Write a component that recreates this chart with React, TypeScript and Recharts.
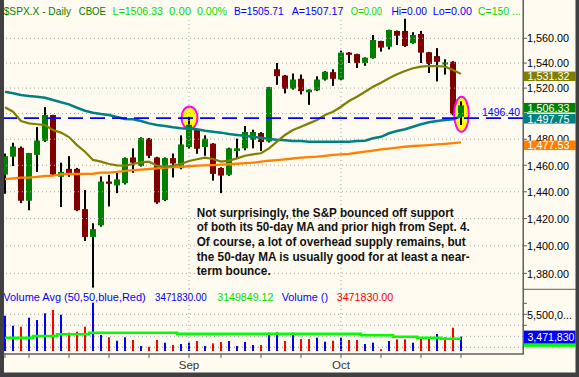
import React from 'react';
import { ComposedChart, Bar, Line, XAxis, YAxis, ReferenceLine } from 'recharts';

// ---------- DATA ----------
const opens = [1453, 1466.6, 1473.4, 1433.3, 1468, 1478.8, 1498.8, 1451.3, 1457.3, 1457.3, 1427, 1406.5, 1415, 1447.7, 1444.8, 1446.5, 1466, 1459.5, 1480.4, 1466, 1433.8, 1465.5, 1457.8, 1474, 1487.6, 1474, 1476.6, 1458, 1452.8, 1471, 1473, 1479.6, 1484.8, 1478.3, 1535, 1530, 1519.6, 1527.4, 1516.7, 1518.2, 1526.8, 1532.7, 1526.8, 1548.4, 1547.2, 1540, 1543.9, 1557.8, 1553.2, 1566, 1566, 1556, 1563.5, 1548.7, 1545.6, 1539, 1541, 1497.5];
const highs = [1469, 1477.3, 1474.4, 1469.5, 1489.4, 1505, 1499, 1462, 1467, 1458, 1441.3, 1416.5, 1451.6, 1452.8, 1455, 1466, 1473, 1481.5, 1481, 1466.5, 1466, 1469, 1483, 1497.2, 1488, 1483, 1477, 1458.5, 1473.5, 1480.4, 1490.2, 1487.4, 1485.5, 1521, 1540, 1530.5, 1531.6, 1530.8, 1519, 1529.4, 1533.5, 1535, 1550, 1548.8, 1547.5, 1544.6, 1562.7, 1558, 1567, 1566.3, 1576, 1565, 1566, 1549, 1552, 1543, 1541.5, 1509.5];
const lows = [1438.5, 1459.5, 1431.5, 1426.2, 1455, 1478, 1452, 1428.6, 1451.3, 1425.5, 1403.5, 1369.8, 1414, 1429, 1439, 1445.5, 1454.3, 1459, 1465.5, 1431, 1433, 1450.8, 1457, 1472.7, 1468.8, 1467.3, 1448.4, 1439, 1452, 1465.5, 1471.5, 1473, 1471, 1477.5, 1522.6, 1515.8, 1518.8, 1515, 1506.8, 1517.6, 1526, 1521.8, 1526.3, 1540, 1536, 1537.8, 1543.5, 1549.2, 1551, 1554.5, 1553, 1555.5, 1540, 1532, 1525.3, 1530.8, 1498.5, 1491];
const closes = [1467, 1474.4, 1433.3, 1469.4, 1479, 1498.8, 1453, 1455, 1453, 1426.2, 1406.5, 1412.2, 1447.7, 1446, 1449.3, 1465.5, 1462, 1481, 1467.3, 1432, 1465.5, 1461.4, 1476, 1491.2, 1472.7, 1480.4, 1453.5, 1452.2, 1473, 1473, 1485.6, 1485.6, 1477.8, 1520.8, 1529.5, 1519.4, 1526.8, 1517.6, 1518.8, 1526.8, 1533, 1527.4, 1548.4, 1546.6, 1540, 1544.3, 1558.6, 1552.4, 1566.8, 1562.1, 1553.8, 1562.7, 1548.4, 1539.2, 1541, 1540.5, 1499.3, 1506.33];

const ma20 = [1504.9, 1501.4, 1494.1, 1492.3, 1491.6, 1491.0, 1487.1, 1485.1, 1481.7, 1475.5, 1470.4, 1464.1, 1462.8, 1461.0, 1460.0, 1459.7, 1461.0, 1462.3, 1462.8, 1459.7, 1458.9, 1459.7, 1461.0, 1463.3, 1464.6, 1465.8, 1464.8, 1462.8, 1463.6, 1465.3, 1467.3, 1468.4, 1469.2, 1473.0, 1478.1, 1483.3, 1487.1, 1489.7, 1492.3, 1494.9, 1498.8, 1501.4, 1505.3, 1509.8, 1513.2, 1517.1, 1521.1, 1524.3, 1527.8, 1531.0, 1533.6, 1535.8, 1537.1, 1537.6, 1537.6, 1537.1, 1534.4, 1531.32];
const ma50 = [1517.1, 1515.9, 1514.5, 1513.7, 1513.2, 1512.4, 1510.6, 1508.8, 1507.2, 1504.5, 1502.2, 1500.6, 1499.6, 1498.8, 1497.3, 1495.7, 1495.5, 1494.1, 1492.3, 1491.0, 1490.2, 1489.2, 1488.5, 1488.2, 1487.7, 1486.6, 1485.8, 1485.1, 1484.0, 1483.3, 1482.7, 1481.9, 1481.2, 1480.2, 1479.6, 1479.2, 1478.6, 1478.6, 1478.1, 1478.1, 1478.1, 1478.1, 1478.1, 1478.1, 1478.6, 1478.8, 1480.7, 1481.9, 1484.6, 1486.4, 1487.7, 1489.7, 1491.6, 1493.1, 1494.1, 1494.9, 1495.5, 1497.75];
const ma200 = [1449.6, 1450.1, 1450.6, 1450.6, 1451.3, 1451.9, 1452.1, 1453.2, 1453.4, 1453.4, 1453.5, 1453.6, 1454.4, 1454.4, 1455.1, 1455.8, 1456.4, 1456.8, 1457.2, 1457.7, 1458.2, 1458.6, 1458.9, 1459.3, 1459.7, 1460.0, 1460.2, 1460.5, 1460.8, 1461.2, 1461.6, 1462.0, 1462.8, 1463.5, 1464.0, 1464.6, 1465.2, 1465.8, 1466.2, 1466.6, 1467.2, 1467.9, 1468.3, 1468.8, 1469.6, 1470.4, 1471.3, 1472.2, 1472.8, 1473.5, 1474.2, 1474.8, 1475.1, 1475.5, 1476.0, 1476.5, 1477.0, 1477.53];

const volumes = [5370000, 4460000, 4370000, 5190000, 4980000, 5590000, 5890000, 5460000, 3830000, 3920000, 4370000, 6550000, 3620000, 3410000, 3100000, 3410000, 3160000, 2620000, 2550000, 3160000, 2920000, 2710000, 2800000, 2920000, 3070000, 2620000, 2860000, 2980000, 3070000, 2620000, 2980000, 2710000, 2710000, 3830000, 3860000, 3070000, 3830000, 3250000, 3250000, 3370000, 3010000, 3100000, 3370000, 3160000, 3160000, 2800000, 2920000, 2320000, 3070000, 3230000, 3230000, 2920000, 3320000, 3410000, 3710000, 3410000, 4280000, 3471830];
const volumeUp = [1, 1, 0, 1, 1, 1, 0, 1, 0, 0, 0, 1, 1, 0, 1, 1, 0, 1, 0, 0, 1, 0, 1, 1, 0, 1, 0, 0, 1, 1, 1, 1, 0, 1, 1, 0, 1, 0, 0, 1, 1, 0, 1, 0, 0, 1, 1, 0, 1, 0, 0, 1, 0, 0, 1, 0, 0, 1];
const volumeAvg = [3370000, 3370000, 3370000, 3370000, 3530000, 3530000, 3530000, 3680000, 3680000, 3680000, 3680000, 3830000, 3830000, 3830000, 3830000, 3830000, 3830000, 3830000, 3830000, 3830000, 3830000, 3830000, 3740000, 3740000, 3740000, 3740000, 3740000, 3740000, 3740000, 3740000, 3740000, 3740000, 3740000, 3740000, 3740000, 3740000, 3740000, 3740000, 3740000, 3740000, 3740000, 3740000, 3740000, 3740000, 3740000, 3590000, 3590000, 3590000, 3590000, 3460000, 3460000, 3460000, 3370000, 3370000, 3370000, 3280000, 3280000, 3280000];
const volumeAvgLast = 3149849.12;

const priceTicks = [1380, 1400, 1420, 1440, 1460, 1480, 1500, 1520, 1540, 1560];
const hiddenPriceLabels = [1500];
const volumeTicks = [4500000, 5500000, 6500000];
const volumeGrid = [2500000, 3500000, 4500000, 5500000];
const weekTicks = [0, 3, 8, 13, 18, 23, 27, 32, 37, 42, 47, 52, 57];
const monthStarts = [23, 42];
const monthLabels: Record<number, string> = { 23: 'Sep', 42: 'Oct' };
const supportLevel = 1496.4;
const highlights = [
  { i: 23, price: 1496.7, rx: 8, ry: 11.3 },
  { i: 57, price: 1499.4, rx: 7.3, ry: 17.5 },
];

// ---------- STYLE ----------
const FONT = "'Liberation Sans', Arial, sans-serif";
const CREAM = '#fffbf0';
const FRAME = '#404040';
const AXIS = '#606060';
const GRID = '#a8a8a8';
const PRICE_DOMAIN: [number, number] = [1368.8, 1576.6];
const VOL_DOMAIN: [number, number] = [1891000, 7800000];
const VOL_FLOOR = 2164000;
const X_DOMAIN: [number, number] = [-0.125, 64.75];

const data = opens.map((o, i) => ({
  i,
  open: o,
  high: highs[i],
  low: lows[i],
  close: closes[i],
  ma20: ma20[i],
  ma50: ma50[i],
  ma200: ma200[i],
  vol: volumes[i],
  up: volumeUp[i] === 1,
  vavg: volumeAvg[i],
}));

const last = data[data.length - 1];

const fmtPrice = (v: number) =>
  v.toLocaleString('en-US', { minimumFractionDigits: 2, maximumFractionDigits: 2 });

const Candle = (props: any) => {
  const { x, y, width, height, payload } = props;
  if (x == null || y == null || !payload) return null;
  const top = Math.min(y, y + height);
  const bot = Math.max(y, y + height);
  const lh = Math.log(payload.high);
  const ll = Math.log(payload.low);
  const yOf = (p: number) => (lh === ll ? top : top + ((lh - Math.log(p)) / (lh - ll)) * (bot - top));
  const cx = x + width / 2;
  const rising = payload.close >= payload.open;
  const bTop = yOf(Math.max(payload.open, payload.close));
  const bBot = yOf(Math.min(payload.open, payload.close));
  const hl = highlights.find((h) => h.i === payload.i);
  return (
    <g>
      {hl && (
        <ellipse cx={cx + 0.5} cy={yOf(hl.price)} rx={hl.rx} ry={hl.ry} fill="#ffff00" stroke="#ff00ff" strokeWidth={2} />
      )}
      <rect x={cx - 1} y={top} width={2} height={Math.max(1, bot - top)} fill="#000" />
      <rect x={x} y={bTop} width={width} height={Math.max(2, bBot - bTop)} fill={rising ? '#008000' : '#800000'} />
    </g>
  );
};

const VolBar = (props: any) => {
  const { x, y, width, height, payload } = props;
  if (x == null || y == null || !payload) return null;
  const top = Math.min(y, y + height);
  return <rect x={x} y={top} width={width} height={Math.abs(height)} fill={payload.up ? '#0000ff' : '#ff0000'} />;
};

const PriceTick = (p: any) => {
  if (hiddenPriceLabels.includes(p.payload.value)) return null;
  return (
    <text x={p.x} y={p.y + 4.2} fontSize={11.5} fontFamily={FONT} fill="#000" textLength={42} lengthAdjust="spacingAndGlyphs">
      {fmtPrice(p.payload.value)}
    </text>
  );
};

const VolTick = (p: any) => {
  if (p.payload.value !== 5500000) return null;
  const s = p.payload.value.toLocaleString('en-US');
  return (
    <text x={p.x} y={p.y + 4.2} fontSize={11.5} fontFamily={FONT} fill="#000" textLength={45} lengthAdjust="spacingAndGlyphs">
      {s.slice(0, 7) + '...'}
    </text>
  );
};

const MonthTick = (p: any) => {
  const lbl = monthLabels[p.payload.value];
  if (!lbl) return null;
  return (
    <text x={p.x} y={p.y + 8.5} textAnchor="middle" fontSize={11.5} fontFamily={FONT} fill="#333">
      {lbl}
    </text>
  );
};

const ValueBox = (props: any) => {
  const { viewBox, text, fill, top, h, tw, ty } = props;
  if (!viewBox) return null;
  const bx = viewBox.x + viewBox.width + 0.5;
  const by = viewBox.y + top;
  return (
    <g>
      <rect x={bx} y={by} width={52} height={h} fill={fill} />
      {text ? (
        <text x={bx + 4} y={by + ty} fontSize={11.5} fontFamily={FONT} fill="#fff" textLength={tw} lengthAdjust="spacingAndGlyphs">
          {text}
        </text>
      ) : null}
    </g>
  );
};

const LevelLabel = (props: any) => {
  const { viewBox } = props;
  if (!viewBox) return null;
  return (
    <text x={viewBox.x + viewBox.width - 3} y={viewBox.y - 2.3} textAnchor="end" fontSize={11.5} fontFamily={FONT} fill="#0000ff" textLength={38} lengthAdjust="spacingAndGlyphs">
      {supportLevel.toFixed(2)}
    </text>
  );
};

const headerSegs = [
  { t: '$SPX.X - Daily', x: 3.7, w: 67.3, c: '#008000' },
  { t: 'CBOE', x: 78.7, w: 27.3, c: '#008000' },
  { t: 'L=' + last.close.toFixed(2), x: 112.6, w: 50.4, c: '#00e000' },
  { t: '0.00', x: 169, w: 22, c: '#00e000' },
  { t: '0.00%', x: 197, w: 30, c: '#00e000' },
  { t: 'B=1505.71', x: 234, w: 49.6, c: '#0000ff' },
  { t: 'A=1507.17', x: 291.7, w: 51.7, c: '#0000ff' },
  { t: 'O=0.00', x: 350.8, w: 31.2, c: '#00e000' },
  { t: 'Hi=0.00', x: 391.4, w: 35.6, c: '#0000ff' },
  { t: 'Lo=0.00', x: 432.8, w: 39.2, c: '#0000ff' },
  { t: 'C=150 ...', x: 478, w: 42.7, c: '#00e000' },
];

const volSegs = [
  { t: 'Volume Avg (50,50,blue,Red)', x: 3.3, w: 142.4, c: '#0000ff' },
  { t: last.vol.toFixed(2), x: 155, w: 51.7, c: '#0000ff' },
  { t: volumeAvgLast.toFixed(2), x: 217.3, w: 56, c: '#00e000' },
  { t: 'Volume ()', x: 281.7, w: 46.3, c: '#0000ff' },
  { t: last.vol.toFixed(2), x: 336.7, w: 56.6, c: '#ff0000' },
];

const noteLines = [
  { t: 'Not surprisingly, the S&P bounced off support', w: 257 },
  { t: 'of both its 50-day MA and prior high from Sept. 4.', w: 273 },
  { t: 'Of course, a lot of overhead supply remains, but', w: 269 },
  { t: 'the 50-day MA is usually good for at least a near-', w: 273 },
  { t: 'term bounce.', w: 74 },
];

const priceYAxisBase = {
  orientation: 'right' as const,
  width: 56,
  type: 'number' as const,
  scale: 'log' as const,
  domain: PRICE_DOMAIN,
  allowDataOverflow: true,
  ticks: priceTicks,
  interval: 0 as const,
};

export default function App() {
  return (
    <div style={{ position: 'absolute', left: 0, top: 0, width: 579, height: 377, background: CREAM, overflow: 'hidden' }}>
      <div style={{ position: 'absolute', left: 0, top: 0 }}>
        <ComposedChart width={579} height={289} data={data} margin={{ top: 18, right: 0, bottom: 0, left: 4 }}>
          <XAxis dataKey="i" type="number" domain={X_DOMAIN} allowDataOverflow hide />
          <YAxis
            {...priceYAxisBase}
            tickSize={4}
            tickMargin={0}
            tickLine={{ stroke: AXIS }}
            axisLine={false}
            tick={<PriceTick />}
          />
          {priceTicks.map((t) => (
            <ReferenceLine key={'g' + t} y={t} stroke={GRID} strokeDasharray="1 3" />
          ))}
          {monthStarts.map((m) => (
            <ReferenceLine key={'m' + m} x={m} stroke={GRID} strokeDasharray="1 3" />
          ))}
          <Bar dataKey={(d: any) => [d.low, d.high]} barSize={6} isAnimationActive={false} shape={(p: any) => <Candle {...p} />} />
          <Line dataKey="ma200" stroke="#ff8000" strokeWidth={2.3} dot={false} isAnimationActive={false} />
          <Line dataKey="ma50" stroke="#008080" strokeWidth={2.5} dot={false} isAnimationActive={false} />
          <Line dataKey="ma20" stroke="#808000" strokeWidth={2.2} dot={false} isAnimationActive={false} />
          <ReferenceLine y={supportLevel} stroke="#0000ff" strokeWidth={1.6} strokeDasharray="15 7" label={<LevelLabel />} />
        </ComposedChart>
      </div>
      {/* value boxes layer, above the axis labels */}
      <div style={{ position: 'absolute', left: 0, top: 0, pointerEvents: 'none' }}>
        <ComposedChart width={579} height={289} data={data} margin={{ top: 18, right: 0, bottom: 0, left: 4 }}>
          <XAxis dataKey="i" type="number" domain={X_DOMAIN} allowDataOverflow hide />
          <YAxis {...priceYAxisBase} tick={false} tickLine={false} axisLine={false} />
          <ReferenceLine y={last.ma20} stroke="none" label={<ValueBox text={fmtPrice(last.ma20)} fill="#808000" top={-2.3} h={9.5} ty={8.8} tw={42} />} />
          <ReferenceLine y={last.close} stroke="none" label={<ValueBox text={fmtPrice(last.close)} fill="#008000" top={-2.5} h={9.5} ty={8.8} tw={42} />} />
          <ReferenceLine y={last.ma50} stroke="none" label={<ValueBox text={fmtPrice(last.ma50)} fill="#008080" top={-2.3} h={9.5} ty={8.8} tw={42} />} />
          <ReferenceLine y={last.ma200} stroke="none" label={<ValueBox text={fmtPrice(last.ma200)} fill="#ff8000" top={-1.9} h={9.5} ty={8.8} tw={42} />} />
        </ComposedChart>
      </div>
      <div style={{ position: 'absolute', left: 0, top: 289 }}>
        <ComposedChart width={579} height={88} data={data} margin={{ top: 0, right: 0, bottom: 0, left: 4 }}>
          <XAxis
            dataKey="i"
            type="number"
            domain={X_DOMAIN}
            allowDataOverflow
            ticks={weekTicks}
            interval={0}
            height={23}
            tickSize={4}
            tickMargin={2}
            tickLine={{ stroke: AXIS }}
            axisLine={{ stroke: AXIS, strokeWidth: 1.5 }}
            tick={<MonthTick />}
          />
          <YAxis
            orientation="right"
            width={56}
            type="number"
            domain={VOL_DOMAIN}
            allowDataOverflow
            ticks={volumeTicks}
            interval={0}
            tickSize={4}
            tickMargin={0}
            tickLine={{ stroke: AXIS }}
            axisLine={false}
            tick={<VolTick />}
          />
          {volumeGrid.map((t) => (
            <ReferenceLine key={'vg' + t} y={t} stroke={GRID} strokeDasharray="1 3" />
          ))}
          {monthStarts.map((m) => (
            <ReferenceLine key={'vm' + m} x={m} stroke={GRID} strokeDasharray="1 3" />
          ))}
          <Bar dataKey={(d: any) => [VOL_FLOOR, d.vol]} barSize={2} isAnimationActive={false} shape={(p: any) => <VolBar {...p} />} />
          <Line dataKey="vavg" type="step" stroke="#00ff00" strokeWidth={2.5} dot={false} isAnimationActive={false} />
          <ReferenceLine y={volumeAvgLast} stroke="none" label={<ValueBox text="" fill="#00ff00" top={-6} h={12.7} ty={10} tw={1} />} />
          <ReferenceLine y={last.vol} stroke="none" label={<ValueBox text={last.vol.toLocaleString('en-US')} fill="#0000ff" top={-6} h={12.7} ty={10.8} tw={47} />} />
        </ComposedChart>
      </div>
      <svg width={579} height={377} style={{ position: 'absolute', left: 0, top: 0, pointerEvents: 'none' }}>
        {headerSegs.map((s) => (
          <text key={s.t + s.x} x={s.x} y={15.3} fontSize={11} fontFamily={FONT} fill={s.c} textLength={s.w} lengthAdjust="spacingAndGlyphs">
            {s.t}
          </text>
        ))}
        {volSegs.map((s) => (
          <text key={s.t + s.x} x={s.x} y={300.7} fontSize={11} fontFamily={FONT} fill={s.c} textLength={s.w} lengthAdjust="spacingAndGlyphs">
            {s.t}
          </text>
        ))}
        {noteLines.map((l, k) => (
          <text key={k} x={196.7} y={216.7 + k * 14.65} fontSize={13} fontWeight="bold" fontFamily={FONT} fill="#111" textLength={l.w} lengthAdjust="spacingAndGlyphs">
            {l.t}
          </text>
        ))}
        <line x1={523.25} y1={0} x2={523.25} y2={354.5} stroke={AXIS} strokeWidth={1.5} />
        <line x1={523} y1={289.3} x2={576} y2={289.3} stroke={AXIS} strokeWidth={1} />
        <rect x={0} y={0} width={4} height={377} fill={FRAME} />
        <rect x={575.5} y={0} width={4} height={377} fill={FRAME} />
        <rect x={0} y={372.5} width={579} height={5} fill={FRAME} />
      </svg>
    </div>
  );
}
